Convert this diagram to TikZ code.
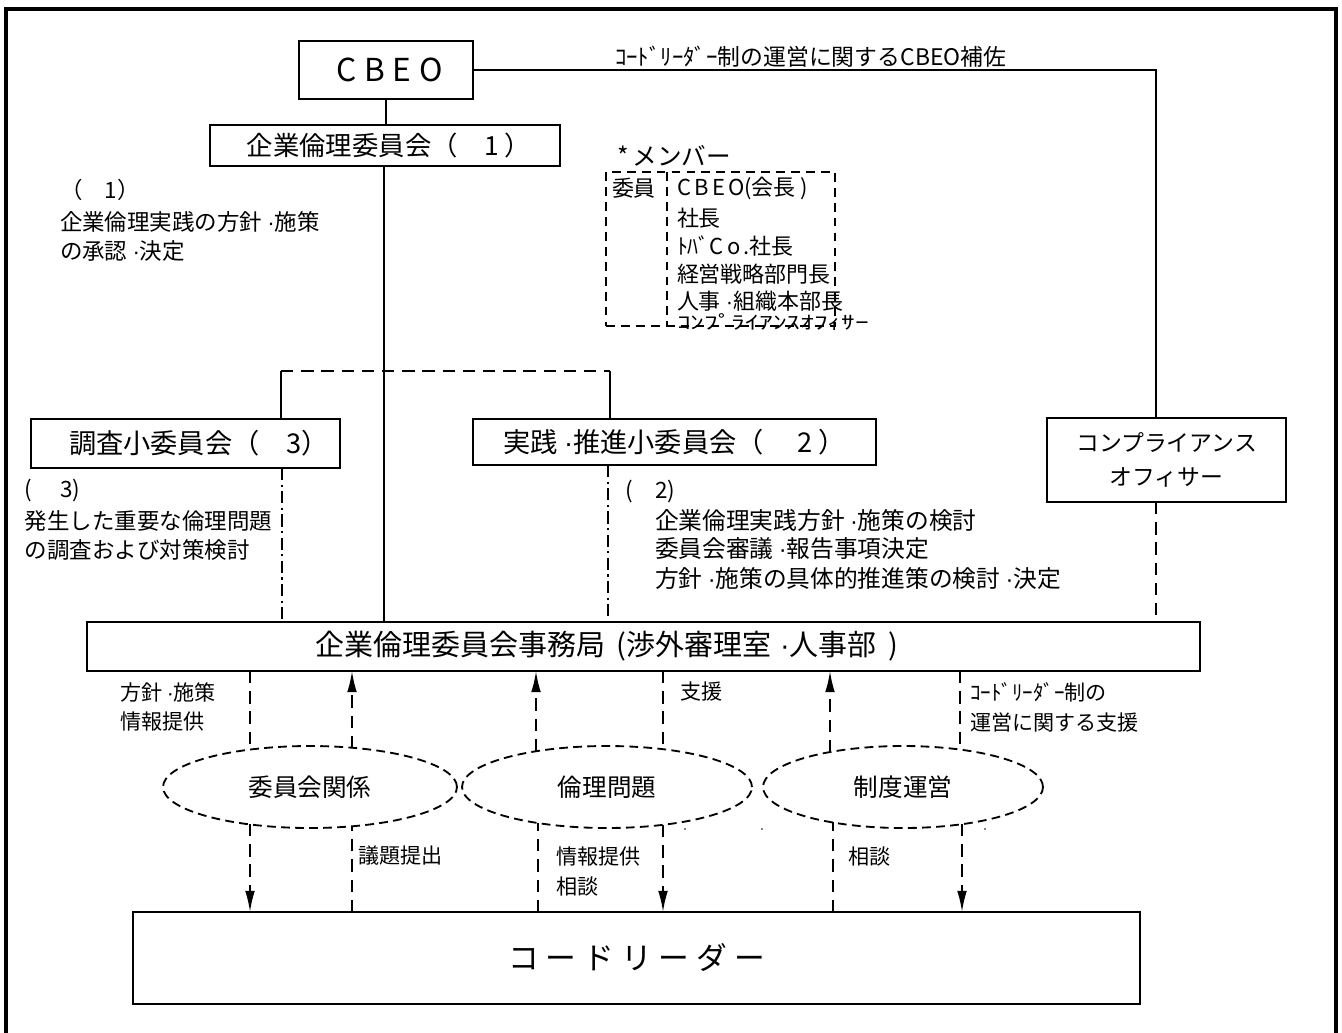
\documentclass[tikz,border=0pt]{standalone}
\usepackage{fontspec}
\setmainfont{Noto Sans CJK JP}
\newfontfamily\dotfont{Liberation Sans}
\newcommand{\mdot}{{\dotfont ·}}
\usetikzlibrary{arrows.meta,shapes.geometric,fit}
\begin{document}
\begin{tikzpicture}[x=0.02cm,y=-0.02cm,
  every node/.style={inner sep=0pt, outer sep=0pt},
  box/.style={draw, line width=1.05pt, align=center},
  ln/.style={line width=1.05pt},
  dsh/.style={line width=1.05pt, dash pattern=on 7pt off 4.5pt},
  ddot/.style={line width=1.05pt, dash pattern=on 7pt off 2.5pt on 1.2pt off 2.5pt},
  arr/.style={-{Latex[length=12pt,width=5.5pt]}},
  ell/.style={ellipse, draw, line width=1.05pt, dash pattern=on 5pt off 3pt, minimum height=1.64cm, font=\fontsize{14}{16}\selectfont},
  note/.style={anchor=west, font=\fontsize{12.8}{15}\selectfont},
  lbl/.style={anchor=west, font=\fontsize{12}{14}\selectfont},
  mem/.style={anchor=west, font=\fontsize{12.5}{15}\selectfont},
]
\useasboundingbox (0,0) rectangle (1342,1032);
\draw[line width=1.8pt] (6,9) rectangle (1336,1080);

% main boxes
\node[box, minimum width=3.48cm, minimum height=1.16cm, font=\fontsize{18}{20}\selectfont] (cbeo) at (386,70) {\addfontfeature{LetterSpace=25}CBEO\hspace*{-4pt}};
\node[box, minimum width=7cm, minimum height=0.82cm, font=\fontsize{15}{17}\selectfont] (iinkai) at (385,145.5) {\hspace*{0.3em}企業倫理委員会（　1 ）};
\node[box, minimum width=6.18cm, minimum height=0.98cm, font=\fontsize{15.5}{17}\selectfont] (chosa) at (185.5,443.5) {\hspace*{1em}調査小委員会（　3）};
\node[box, minimum width=8.06cm, minimum height=0.92cm, font=\fontsize{15.5}{17}\selectfont] (jissen) at (674.5,442) {実践 \mdot 推進小委員会（　 2 ）};
\node[box, minimum width=4.78cm, minimum height=1.68cm, font=\fontsize{13}{19.5}\selectfont] (comp) at (1166.5,460) {コンプライアンス\\オフィサー};
\node[box, minimum width=22.26cm, minimum height=0.98cm, font=\fontsize{16.5}{18}\selectfont] (jimu) at (643.5,646.5) {企業倫理委員会事務局\hspace{0.4em}(渉外審理室\hspace{0.3em}\mdot 人事部\hspace{0.4em})\hspace*{42pt}};
\node[box, minimum width=20.14cm, minimum height=1.84cm, font=\fontsize{17.5}{20}\selectfont] (kodo) at (636.5,958) {コ ー ド リ ー ダ ー};

% top connector
\node[anchor=west, font=\fontsize{13}{15}\selectfont] (toplbl) at (615,57) {ｺｰﾄﾞﾘｰﾀﾞｰ制の運営に関するCBEO補佐};
\coordinate (cn) at (1156,418);
\draw[ln] (cbeo.east) -| (cn);
\draw[ln] (cbeo.south) -- (iinkai.north -| cbeo.south);
\coordinate (mv) at (384,0);
\draw[ln] (iinkai.south -| mv) -- (jimu.north -| mv);

% note (1)
\node[note] (n1a) at (60,190) {（　1）};
\node[note] (n1b) at (60,222) {企業倫理実践の方針 \mdot 施策};
\node[note] (n1c) at (60,251) {の承認 \mdot 決定};

% members
\node[anchor=west, font=\fontsize{14}{16}\selectfont] (memt) at (617,156) {*\,メンバー};
\node[draw, line width=1pt, dash pattern=on 5pt off 3.5pt, fit={(606,172) (835,326)}] (membox) {};
\coordinate (mdiv) at (667,0);
\draw[line width=1pt, dash pattern=on 5pt off 3.5pt] (membox.north -| mdiv) -- (membox.south -| mdiv);
\node[mem] (m0) at (612,188) {委員};
\node[mem] (m1) at (677,188) {{\addfontfeature{LetterSpace=15}CBEO}(会長 )};
\node[mem] (m2) at (677,218) {社長};
\node[mem] (m3) at (677,246) {ﾄﾊﾞ{\addfontfeature{LetterSpace=15}Co.}社長};
\node[mem] (m4) at (677,274) {経営戦略部門長};
\node[mem] (m5) at (677,301) {人事 \mdot 組織本部長};
\node[mem] (m6) at (677,322) {\scalebox{1.25}[0.85]{ｺﾝﾌﾟﾗｲｱﾝｽｵﾌｨｻｰ}};

% subcommittee connector
\coordinate (h1) at (281,371);
\coordinate (h2) at (610,371);
\draw[dsh] (h1) -- (h2);
\draw[ln] (h1) -- (chosa.north -| h1);
\draw[ln] (h2) -- (jissen.north -| h2);

% dash-dot lines to jimu
\coordinate (d3) at (282,0);
\coordinate (d2) at (608,0);
\coordinate (dc) at (1156,0);
\draw[ddot] (chosa.south -| d3) -- (jimu.north -| d3);
\draw[ddot] (jissen.south -| d2) -- (jimu.north -| d2);
\draw[dsh] (comp.south -| dc) -- (jimu.north -| dc);

% note (3)
\node[note] (n3a) at (25,490) {(　 3)};
\node[note] (n3b) at (25,521) {発生した重要な倫理問題};
\node[note] (n3c) at (25,550) {の調査および対策検討};

% note (2)
\node[note] (n2a) at (625,491) {(　2)};
\node[note, font=\fontsize{13.5}{15}\selectfont] (n2b) at (655,520) {企業倫理実践方針 \mdot 施策の検討};
\node[note, font=\fontsize{13.5}{15}\selectfont] (n2c) at (655,549) {委員会審議 \mdot 報告事項決定};
\node[note, font=\fontsize{13.5}{15}\selectfont] (n2d) at (655,578) {方針 \mdot 施策の具体的推進策の検討 \mdot 決定};

% ellipses
\node[ell, minimum width=5.88cm] (e1) at (310,787) {委員会関係};
\node[ell, minimum width=5.80cm] (e2) at (607,787) {倫理問題};
\node[ell, minimum width=5.60cm] (e3) at (903,787) {制度運営};

% upper connectors
\coordinate (u1) at (250,750);
\coordinate (u2) at (352,748);
\coordinate (u3) at (536,751);
\coordinate (u4) at (663,749);
\coordinate (u5) at (830,752);
\coordinate (u6) at (960,750);
\draw[dsh] (jimu.south -| u1) -- (u1);
\draw[dsh, arr] (u2) -- (jimu.south -| u2);
\draw[dsh, arr] (u3) -- (jimu.south -| u3);
\draw[dsh] (jimu.south -| u4) -- (u4);
\draw[dsh, arr] (u5) -- (jimu.south -| u5);
\draw[dsh] (jimu.south -| u6) -- (u6);

% lower connectors
\coordinate (l1) at (250,824);
\coordinate (l2) at (352,826);
\coordinate (l3) at (538,823);
\coordinate (l4) at (663,825);
\coordinate (l5) at (833,822);
\coordinate (l6) at (962,824);
\draw[dsh, arr] (l1) -- (kodo.north -| l1);
\draw[dsh] (kodo.north -| l2) -- (l2);
\draw[dsh] (kodo.north -| l3) -- (l3);
\draw[dsh, arr] (l4) -- (kodo.north -| l4);
\draw[dsh] (kodo.north -| l5) -- (l5);
\draw[dsh, arr] (l6) -- (kodo.north -| l6);

% labels
\node[lbl] (la1) at (120,692) {方針 \mdot 施策};
\node[lbl] (la2) at (120,721) {情報提供};
\node[lbl] (la3) at (680,692) {支援};
\node[lbl] (la4) at (970,692) {ｺｰﾄﾞﾘｰﾀﾞｰ制の};
\node[lbl] (la5) at (970,722) {運営に関する支援};
\node[lbl] (lb1) at (358,856) {議題提出};
\node[lbl] (lb2) at (556,856) {情報提供};
\node[lbl] (lb3) at (556,886) {相談};
\node[lbl] (lb4) at (848,856) {相談};

% specks
\fill (685,829) circle (0.8);
\fill (762,829) circle (0.8);
\fill (985,829) circle (0.8);
\end{tikzpicture}
\end{document}
